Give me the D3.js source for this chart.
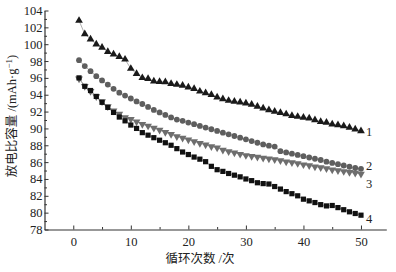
<!DOCTYPE html>
<html>
<head>
<meta charset="utf-8">
<script src="https://cdn.jsdelivr.net/npm/d3@7"></script>
<style>
  body { margin: 0; background: #fff; }
  svg { display: block; }
  .tick text { font-family: "Liberation Serif", "Times New Roman", serif; font-size: 12.5px; fill: #222; }
  .lbl { font-family: "Liberation Serif", "Noto Sans CJK SC", serif; font-size: 12.5px; fill: #222; }
</style>
</head>
<body>
<div id="chart"></div>
<script>
// cycles 1..50
var cycles = d3.range(1, 51);

var s1 = [102.8, 101.2, 100.6, 100.0, 99.6, 99.1, 98.8, 98.5, 98.2, 97.1,
          96.5, 96.0, 95.9, 95.6, 95.55, 95.5, 95.3, 95.2, 95.1, 94.9,
          94.7, 94.4, 94.2, 94.0, 93.7, 93.5, 93.3, 93.2, 93.1, 93.0,
          92.85, 92.6, 92.4, 92.2, 92.0, 91.85, 91.7, 91.5, 91.4, 91.3,
          91.2, 91.0, 90.8, 90.7, 90.5, 90.4, 90.3, 90.1, 89.9, 89.7];

var s2 = [98.1, 97.4, 96.8, 96.2, 95.7, 95.2, 94.7, 94.25, 93.9, 93.55,
          93.2, 92.9, 92.55, 92.2, 91.9, 91.6, 91.3, 91.05, 90.9, 90.7,
          90.5, 90.3, 90.1, 89.9, 89.7, 89.5, 89.3, 89.1, 88.9, 88.7,
          88.5, 88.3, 88.1, 87.95, 87.85, 87.3, 87.15, 87.0, 86.85, 86.7,
          86.55, 86.4, 86.25, 86.05, 85.9, 85.75, 85.6, 85.45, 85.3, 85.2];

var s3 = [95.9, 95.0, 94.4, 93.8, 93.2, 92.6, 92.1, 91.7, 91.3, 91.1,
          90.8, 90.5, 90.3, 90.05, 89.8, 89.55, 89.3, 89.05, 88.85, 88.65,
          88.45, 88.25, 88.05, 87.85, 87.7, 87.45, 87.25, 87.1, 86.95, 86.8,
          86.7, 86.6, 86.5, 86.4, 86.3, 86.2, 86.05, 85.95, 85.85, 85.7,
          85.6, 85.45, 85.35, 85.25, 85.1, 85.0, 84.9, 84.8, 84.7, 84.6];

var s4 = [96.0, 95.0, 94.5, 93.8, 93.1, 92.5, 91.9, 91.35, 90.9, 90.4,
          90.0, 89.5, 89.2, 88.9, 88.6, 88.3, 88.0, 87.6, 87.2, 86.9,
          86.6, 86.35, 86.05, 85.5, 85.1, 84.9, 84.65, 84.45, 84.25, 84.0,
          83.8, 83.55, 83.45, 83.4, 83.1, 82.8, 82.5, 82.25, 82.0, 81.6,
          81.4, 81.2, 80.95, 80.8, 80.85, 80.6, 80.35, 80.1, 79.9, 79.7];

var seriesNames = ["1", "2", "3", "4"];
var xTicks = [0, 10, 20, 30, 40, 50];
var yTicks = d3.range(78, 105, 2);

var W = 396, H = 272;
var svg = d3.select("#chart").append("svg").attr("width", W).attr("height", H);

var x = d3.scaleLinear().domain([-5, 54.4]).range([44.5, 386.3]);
var y = d3.scaleLinear().domain([78, 104]).range([229.5, 10.5]);

// axes (ticks point inward)
svg.append("g").attr("transform", "translate(0," + y(78) + ")")
  .call(d3.axisBottom(x).tickValues(xTicks).tickSize(-4).tickPadding(8).tickSizeOuter(0));
svg.append("g").attr("transform", "translate(0," + y(78) + ")")
  .call(d3.axisBottom(x).tickValues([5, 15, 25, 35, 45]).tickSize(-2.5).tickFormat("").tickSizeOuter(0))
  .select(".domain").remove();

svg.append("g").attr("transform", "translate(" + x(-5) + ",0)")
  .call(d3.axisLeft(y).tickValues(yTicks).tickSize(-4).tickPadding(2).tickSizeOuter(0));
svg.append("g").attr("transform", "translate(" + x(-5) + ",0)")
  .call(d3.axisLeft(y).tickValues(d3.range(79, 104, 2)).tickSize(-2.5).tickFormat("").tickSizeOuter(0))
  .select(".domain").remove();

svg.selectAll(".domain").attr("stroke", "#333").attr("stroke-width", 1.2);
svg.selectAll(".tick line").attr("stroke", "#333");

// connecting lines
var line = d3.line().x(function(d, i){ return x(cycles[i]); }).y(function(d){ return y(d); });
[s1, s2, s3, s4].forEach(function(s){
  svg.append("path").attr("d", line(s)).attr("fill", "none")
    .attr("stroke", "#999").attr("stroke-width", 0.8);
});

// markers
var tri = d3.symbol().type(d3.symbolTriangle).size(26);

svg.append("g").selectAll("path").data(s3).enter().append("path")
  .attr("d", tri())
  .attr("transform", function(d, i){ return "translate(" + x(cycles[i]) + "," + y(d) + ") rotate(180)"; })
  .attr("fill", "#6e6e6e");

svg.append("g").selectAll("rect").data(s4).enter().append("rect")
  .attr("x", function(d, i){ return x(cycles[i]) - 2.6; })
  .attr("y", function(d){ return y(d) - 2.6; })
  .attr("width", 5.2).attr("height", 5.2)
  .attr("fill", "#111");

svg.append("g").selectAll("circle").data(s2).enter().append("circle")
  .attr("cx", function(d, i){ return x(cycles[i]); })
  .attr("cy", function(d){ return y(d); })
  .attr("r", 2.9)
  .attr("fill", "#5e5e5e");

svg.append("g").selectAll("path").data(s1).enter().append("path")
  .attr("d", tri())
  .attr("transform", function(d, i){ return "translate(" + x(cycles[i]) + "," + y(d) + ")"; })
  .attr("fill", "#1a1a1a");

// series labels
var labelY = [s1[49] - 0.1, s2[49] + 0.3, s3[49] - 1.2, s4[49] - 0.5];
svg.append("g").selectAll("text").data(seriesNames).enter().append("text")
  .attr("class", "lbl")
  .attr("x", x(50) + 5)
  .attr("y", function(d, i){ return y(labelY[i]) + 4; })
  .text(function(d){ return d; });

// axis titles
svg.append("text").attr("class", "lbl")
  .attr("text-anchor", "middle")
  .attr("x", 200).attr("y", 263)
  .text("循环次数 /次");

var yl = svg.append("text").attr("class", "lbl")
  .attr("text-anchor", "middle")
  .attr("transform", "translate(16," + 116 + ") rotate(-90)");
yl.append("tspan").text("放电比容量 /(mAh·g");
yl.append("tspan").attr("dy", -4).style("font-size", "9px").text("−1");
yl.append("tspan").attr("dy", 4).text(")");
</script>
</body>
</html>
